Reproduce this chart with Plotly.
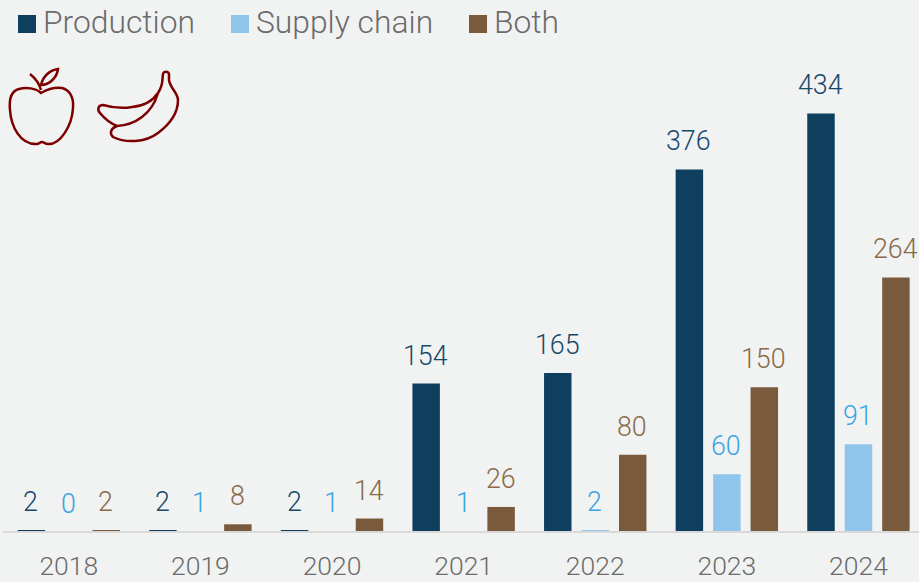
import re
import plotly.graph_objects as go

years = ["2018", "2019", "2020", "2021", "2022", "2023", "2024"]
production = [2, 2, 2, 154, 165, 376, 434]
supply_chain = [0, 1, 1, 1, 2, 60, 91]
both = [2, 8, 14, 26, 80, 150, 264]

W, H = 919, 582
BG = "#f1f3f3"
FONT = "Roboto"
C_PROD, C_SUP, C_BOTH = "#0f3f5f", "#8fc5ea", "#7a5a3c"
T_PROD, T_SUP, T_BOTH = "#17496b", "#3aa3e3", "#8a6a4a"
PLOT_L, PLOT_R, PLOT_T, PLOT_B = 3, 919, 40, 532
PPU = 0.9643
PITCH = 37.5
LABEL_LIFT = 10

series = [("Production", production, C_PROD, T_PROD, -PITCH),
          ("Supply chain", supply_chain, C_SUP, T_SUP, 0),
          ("Both", both, C_BOTH, T_BOTH, PITCH)]

fig = go.Figure()
ann = []
for name, vals, c, tc, dx in series:
    fig.add_bar(x=years, y=vals, name=name, marker_color=c, marker_line_width=0,
                cliponaxis=False, showlegend=False)
    for i, v in enumerate(vals):
        ann.append(dict(x=i, y=v, xref="x", yref="y", text=str(v), showarrow=False,
                        xanchor="center", yanchor="bottom", xshift=dx - 0.5, yshift=LABEL_LIFT,
                        font=dict(family=FONT, size=26.8, color=tc, weight=300)))


def shape_path(d):
    """Convert a path written in page pixels to anchor-relative pixels (y up)."""
    toks = re.findall(r"[MLCZ]|-?\d+\.?\d*", d)
    out, is_x = [], True
    for t in toks:
        if t in "MLCZ":
            out.append(t)
            is_x = True
        else:
            v = float(t)
            out.append(f"{v:.1f}" if is_x else f"{H - v:.1f}")
            is_x = not is_x
    return " ".join(out)


def px_shape(d, **kw):
    return dict(type="path", xref="paper", yref="paper",
                xsizemode="pixel", ysizemode="pixel",
                xanchor=-PLOT_L / (PLOT_R - PLOT_L),
                yanchor=(-(H - PLOT_B)) / (PLOT_B - PLOT_T),
                path=shape_path(d), layer="above", **kw)


ICON = dict(line=dict(color="#7d0000", width=2.5))
apple = ("M41 93 C36 88 26 87 19 89 C11 91 9 100 10 110 C11 126 20 145 37 144 C39 144 40 142 42 142 "
         "C44 142 45 144 48 144 C60 145 72 126 73 108 C74 98 70 90 62 88 C55 87 48 89 41 93 Z")
stem = "M30 74 C35 78 39 82 41 90"
leaf = "M41 85 C43 76 50 70 58 69 C57 77 50 85 41 85 Z"
banana1 = ("M158 93 C152 102 143 106 132 107 C121 109 110 107 103 105 C98 105 97 110 100 113 "
           "C104 118 110 123 117 126 C135 125 152 114 158 93 Z")
banana2 = ("M117 126 C111 128 109 133 113 137 C125 143 145 143 158 133 C170 124 178 113 178 100 "
           "C178 93 170 88 169 80 L169 74 C168 71 164 71 163 74 C162 78 164 84 158 93")

squares = [("M18 15 L36 15 L36 33 L18 33 Z", C_PROD),
           ("M231 15 L249 15 L249 33 L231 33 Z", C_SUP),
           ("M469 15 L487 15 L487 33 L469 33 Z", C_BOTH)]
shapes = [px_shape(p, **ICON) for p in (apple, stem, leaf, banana1, banana2)]
shapes += [px_shape(p, fillcolor=c, line=dict(width=0)) for p, c in squares]
shapes.append(dict(type="line", xref="paper", yref="paper", x0=0, x1=1, y0=0, y1=0,
                   line=dict(color="#d9d9d9", width=2), layer="above"))

ann += [dict(text=t, xref="paper", yref="paper", xanchor="left", yanchor="middle",
             x=(x - PLOT_L) / (PLOT_R - PLOT_L), y=(PLOT_B - 22) / (PLOT_B - PLOT_T),
             showarrow=False, font=dict(family=FONT, size=31.8, color="#6b6b6b", weight=300))
        for t, x in [("Production", 41), ("Supply chain", 254), ("Both", 492)]]

fig.update_layout(
    width=W, height=H, autosize=False,
    paper_bgcolor=BG, plot_bgcolor=BG,
    margin=dict(l=PLOT_L, r=W - PLOT_R, t=PLOT_T, b=H - PLOT_B, pad=0),
    barmode="group", bargap=0.146, bargroupgap=0.267,
    shapes=shapes, annotations=ann,
    font=dict(family=FONT),
    xaxis=dict(type="category", range=[-0.5, 6.46], showgrid=False, ticks="",
               showline=False, zeroline=False, ticklabelstandoff=15,
               tickfont=dict(family=FONT, size=26.5, color="#6b6b6b", weight=300)),
    yaxis=dict(showticklabels=False, showgrid=False, zeroline=False, showline=False, ticks="",
               range=[0, (PLOT_B - PLOT_T) / PPU], fixedrange=True),
)

fig.write_html("out.html", config=dict(displayModeBar=False),
               post_script="document.body.style.margin='0';document.documentElement.style.background='%s';document.documentElement.style.overflow='hidden';" % BG)
